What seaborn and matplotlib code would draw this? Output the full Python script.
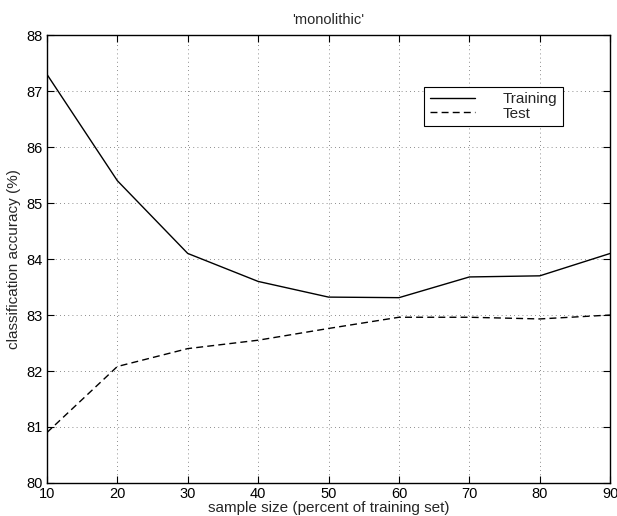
"""
Classification accuracy vs. sample size ('monolithic')
"""

import numpy as np
import pandas as pd
import matplotlib
matplotlib.use('Agg')
import matplotlib.pyplot as plt
import seaborn as sns
from matplotlib.lines import Line2D

# ──────────────────────────────────────────────
# DATA
# ──────────────────────────────────────────────
sample_size = [10, 20, 30, 40, 50, 60, 70, 80, 90]
training_acc = [87.30, 85.40, 84.10, 83.60, 83.32, 83.31, 83.68, 83.70, 84.10]
test_acc     = [80.90, 82.08, 82.40, 82.55, 82.76, 82.96, 82.96, 82.93, 83.00]
series_names = ['Training', 'Test']

df = pd.DataFrame({
    'size': sample_size * 2,
    'acc': training_acc + test_acc,
    'series': [series_names[0]] * len(sample_size) + [series_names[1]] * len(sample_size),
})

# ──────────────────────────────────────────────
# STYLE
# ──────────────────────────────────────────────
sns.set_style('ticks')
plt.rcParams['font.family'] = ['Liberation Sans', 'DejaVu Sans']
plt.rcParams['font.size'] = 10

fig = plt.figure(figsize=(6.17, 5.16), dpi=100)
ax = fig.add_axes([0.076, 0.064, 0.913, 0.868])

sns.lineplot(data=df, x='size', y='acc', hue='series', style='series',
             palette={'Training': 'black', 'Test': 'black'},
             dashes={'Training': '', 'Test': (5, 3)},
             linewidth=1.0, ax=ax, legend=False)

ax.set_xlim(10, 90)
ax.set_ylim(80, 88)
ax.set_xticks(np.arange(10, 91, 10))
ax.set_yticks(np.arange(80, 89, 1))
ax.grid(True, linestyle=(0, (1, 4)), color='black', linewidth=0.6, alpha=0.6)
ax.tick_params(direction='in', top=True, right=True, length=5, labelsize=10.5,
               colors='black', pad=3)
for s in ax.spines.values():
    s.set_linewidth(1.0)
    s.set_color('black')

ax.set_title("'monolithic'", fontsize=10.5, pad=8)
ax.set_xlabel('sample size (percent of training set)', fontsize=11, labelpad=0)
ax.set_ylabel('classification accuracy (%)', fontsize=11, labelpad=4)

# Legend
handles = [Line2D([], [], color='black', lw=1.0),
           Line2D([], [], color='black', lw=1.0, dashes=(5, 3))]
leg = ax.legend(handles, series_names, loc='upper left',
                bbox_to_anchor=(0.67, 0.885), frameon=True, fancybox=False,
                edgecolor='black', framealpha=1, fontsize=11,
                handlelength=3.0, borderpad=0.35,
                labelspacing=0.05, handletextpad=1.8, borderaxespad=0)
leg.get_frame().set_linewidth(0.8)

plt.savefig('out.png', dpi=100)
